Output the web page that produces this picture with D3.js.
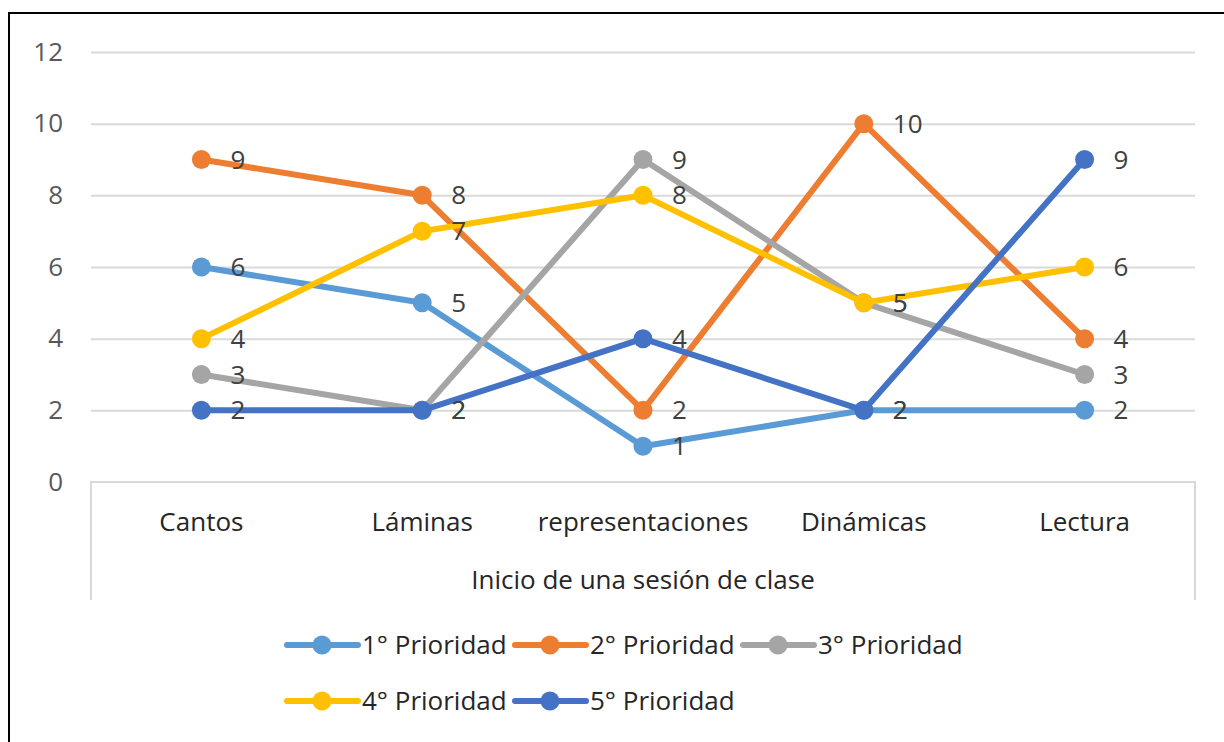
<!DOCTYPE html>
<html>
<head>
<meta charset="utf-8">
<script src="https://cdn.jsdelivr.net/npm/d3@7"></script>
<style>
  body { margin: 0; background: #fff; }
  text { font-family: "Open Sans", "Noto Sans", sans-serif; }
</style>
</head>
<body>
<div id="chart"></div>
<script>
// chart data
const categories = ["Cantos", "Láminas", "representaciones", "Dinámicas", "Lectura"];
const seriesNames = ["1° Prioridad", "2° Prioridad", "3° Prioridad", "4° Prioridad", "5° Prioridad"];
const seriesColors = ["#5B9BD5", "#ED7D31", "#A5A5A5", "#FFC000", "#4472C4"];
const prio1 = [6, 5, 1, 2, 2];
const prio2 = [9, 8, 2, 10, 4];
const prio3 = [3, 2, 9, 5, 3];
const prio4 = [4, 7, 8, 5, 6];
const prio5 = [2, 2, 4, 2, 9];
const yTicks = [0, 2, 4, 6, 8, 10, 12];
const axisTitle = "Inicio de una sesión de clase";

const series = [prio1, prio2, prio3, prio4, prio5].map((vals, i) => ({
    name: seriesNames[i],
    color: seriesColors[i],
    values: vals.map((v, j) => ({ cat: categories[j], value: v }))
}));

const width = 1224;
const height = 742;
const marginTop = 52;
const marginLeft = 91;
const marginRight = 29;
const plotBottom = 482;
const fs = 26;

const svg = d3.select("#chart")
    .append("svg")
    .attr("width", width)
    .attr("height", height)
    .attr("viewBox", [0, 0, width, height]);

// outer frame (only top and left visible in the picture)
svg.append("path")
    .attr("d", `M9,${height} V13 H${width}`)
    .attr("fill", "none")
    .attr("stroke", "#000")
    .attr("stroke-width", 2);

const x = d3.scaleBand(categories, [marginLeft, width - marginRight]);
const y = d3.scaleLinear([0, 12], [plotBottom, marginTop]);
const cx = c => x(c) + x.bandwidth() / 2;

// gridlines + y labels
svg.append("g")
    .attr("transform", `translate(${marginLeft},0)`)
    .call(d3.axisLeft(y).tickValues(yTicks).tickSize(0).tickPadding(28))
    .call(g => g.select(".domain").remove())
    .call(g => g.selectAll(".tick text")
        .attr("fill", "#595959")
        .attr("font-size", fs)
        .attr("font-family", "Open Sans"))
    .call(g => g.selectAll(".tick line")
        .filter(d => d !== 0)
        .attr("x2", width - marginLeft - marginRight)
        .attr("stroke", "#D9D9D9")
        .attr("stroke-width", 2));

// x axis box with labels
svg.append("path")
    .attr("d", `M${marginLeft},600 V${plotBottom} H${width - marginRight} V600`)
    .attr("fill", "none")
    .attr("stroke", "#D9D9D9")
    .attr("stroke-width", 2);

svg.append("g")
    .selectAll("text")
    .data(categories)
    .join("text")
    .attr("x", d => cx(d))
    .attr("y", 531)
    .attr("text-anchor", "middle")
    .attr("font-size", fs)
    .attr("fill", "#262626")
    .text(d => d);

svg.append("text")
    .attr("x", (marginLeft + width - marginRight) / 2)
    .attr("y", 589)
    .attr("text-anchor", "middle")
    .attr("font-size", fs)
    .attr("fill", "#262626")
    .text(axisTitle);

const line = d3.line()
    .x(d => cx(d.cat))
    .y(d => y(d.value));

const sg = svg.append("g")
    .selectAll("g")
    .data(series)
    .join("g");

sg.append("path")
    .attr("d", d => line(d.values))
    .attr("fill", "none")
    .attr("stroke", d => d.color)
    .attr("stroke-width", 6)
    .attr("stroke-linejoin", "round");

sg.selectAll("circle")
    .data(d => d.values.map(v => ({ ...v, color: d.color })))
    .join("circle")
    .attr("cx", d => cx(d.cat))
    .attr("cy", d => y(d.value))
    .attr("r", 9.5)
    .attr("fill", d => d.color);

// data labels to the right of each point
sg.selectAll("text")
    .data(d => d.values)
    .join("text")
    .attr("x", d => cx(d.cat) + 29)
    .attr("y", d => y(d.value))
    .attr("dy", "0.35em")
    .attr("font-size", fs)
    .attr("fill", "#404040")
    .text(d => d.value);

// legend
const legendPos = [[287, 645], [515, 645], [743, 645], [287, 701], [515, 701]];
const lg = svg.append("g")
    .selectAll("g")
    .data(series)
    .join("g")
    .attr("transform", (d, i) => `translate(${legendPos[i][0]},${legendPos[i][1]})`);

lg.append("line")
    .attr("x1", 0).attr("x2", 71)
    .attr("stroke", d => d.color)
    .attr("stroke-width", 6)
    .attr("stroke-linecap", "round");

lg.append("circle")
    .attr("cx", 35)
    .attr("r", 9.5)
    .attr("fill", d => d.color);

lg.append("text")
    .attr("x", 75)
    .attr("dy", "0.35em")
    .attr("font-size", fs)
    .attr("fill", "#262626")
    .text(d => d.name);
</script>
</body>
</html>
